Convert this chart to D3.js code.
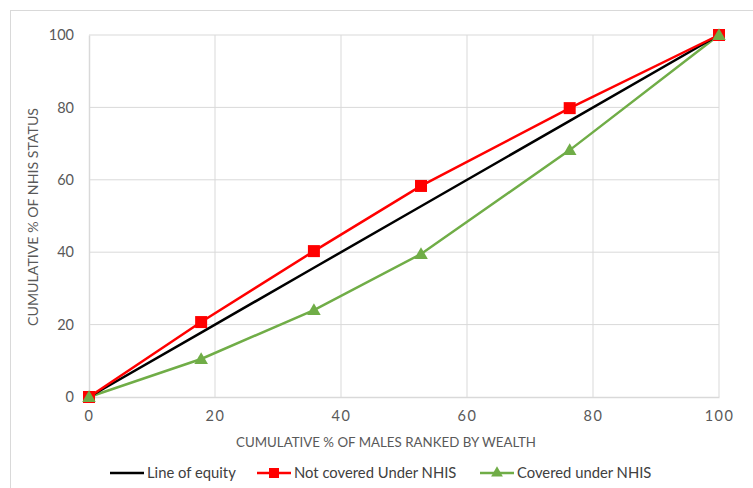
<!DOCTYPE html>
<html><head><meta charset="utf-8">
<script src="https://cdn.jsdelivr.net/npm/d3@7"></script>
<style>body{margin:0;background:#fff;} text{font-family:Lato,"Open Sans",sans-serif;}</style>
</head><body>
<svg id="c" width="753" height="488"></svg>
<script>
const xValues = [0, 17.8, 35.7, 52.7, 76.3, 100];
const equity = [0, 17.8, 35.7, 52.7, 76.3, 100];
const notCovered = [0, 20.7, 40.3, 58.3, 79.8, 100];
const covered = [0, 10.5, 24.0, 39.5, 68.2, 100];
const ticks = [0, 20, 40, 60, 80, 100];
const seriesNames = ["Line of equity", "Not covered Under NHIS", "Covered under NHIS"];
const seriesColors = ["#000000", "#ff0000", "#70ad47"];

const svg = d3.select("#c");
svg.append("rect").attr("x",10.5).attr("y",10.5).attr("width",760).attr("height",500)
  .attr("fill","#fff").attr("stroke","#d9d9d9");

const x = d3.scaleLinear().domain([0,100]).range([89,719]);
const y = d3.scaleLinear().domain([0,100]).range([397,35]);

// gridlines
svg.append("g").selectAll("line").data(ticks.slice(1)).join("line")
  .attr("x1",d=>x(d)).attr("x2",d=>x(d)).attr("y1",y(0)).attr("y2",y(100))
  .attr("stroke","#d9d9d9").attr("stroke-width",1);
svg.append("g").selectAll("line").data(ticks.slice(1)).join("line")
  .attr("x1",x(0)).attr("x2",x(100)).attr("y1",d=>y(d)).attr("y2",d=>y(d))
  .attr("stroke","#d9d9d9").attr("stroke-width",1);

// axes
const xa = svg.append("g").attr("transform",`translate(0,${y(0)})`)
  .call(d3.axisBottom(x).tickValues(ticks).tickSize(0).tickPadding(14));
xa.select(".domain").attr("stroke","#d9d9d9").attr("stroke-width",1.5);
xa.selectAll("text").attr("fill","#595959").attr("font-size",14.5).style("letter-spacing","1.5px");
const ya = svg.append("g").attr("transform",`translate(${x(0)},0)`)
  .call(d3.axisLeft(y).tickValues(ticks).tickSize(0).tickPadding(15));
ya.select(".domain").attr("stroke","#d9d9d9").attr("stroke-width",1.5);
ya.selectAll("text").attr("fill","#595959").attr("font-size",14.5);

// axis titles
svg.append("text").attr("x",386).attr("y",447).attr("text-anchor","middle")
  .attr("fill","#595959").attr("font-size",13.3).text("CUMULATIVE % OF MALES RANKED BY WEALTH");
svg.append("text").attr("transform","translate(38,217) rotate(-90)").attr("text-anchor","middle")
  .attr("fill","#595959").attr("font-size",14.2).text("CUMULATIVE % OF NHIS STATUS");

const line = d3.line().x(d=>x(d[0])).y(d=>y(d[1]));
const dataSets = [equity, notCovered, covered].map(vals => xValues.map((v,i)=>[v, vals[i]]));

const tri = d3.symbol().type(d3.symbolTriangle).size(80);

// draw in order: green, black, red
[2,0,1].forEach(si => {
  svg.append("path").datum(dataSets[si]).attr("d",line).attr("fill","none")
    .attr("stroke",seriesColors[si]).attr("stroke-width",2.5);
});
[1,2].forEach(si => {
  const g = svg.append("g");
  if (si===1) {
    g.selectAll("rect").data(dataSets[si]).join("rect")
      .attr("x",d=>x(d[0])-6).attr("y",d=>y(d[1])-6).attr("width",12).attr("height",12)
      .attr("fill",seriesColors[si]);
  } else {
    g.selectAll("path").data(dataSets[si]).join("path")
      .attr("d",tri).attr("transform",d=>`translate(${x(d[0])},${y(d[1])+1})`)
      .attr("fill",seriesColors[si]);
  }
});

// legend
const legX = [110, 257, 480];
const legY = 473;
seriesNames.forEach((n,i)=>{
  const g = svg.append("g");
  g.append("line").attr("x1",legX[i]).attr("x2",legX[i]+34).attr("y1",legY).attr("y2",legY)
    .attr("stroke",seriesColors[i]).attr("stroke-width",2.5);
  if (i===1) g.append("rect").attr("x",legX[i]+12).attr("y",legY-5).attr("width",10).attr("height",10).attr("fill",seriesColors[i]);
  if (i===2) g.append("path").attr("d",d3.symbol().type(d3.symbolTriangle).size(60)).attr("transform",`translate(${legX[i]+17},${legY})`).attr("fill",seriesColors[i]);
  g.append("text").attr("x",legX[i]+37).attr("y",legY+5).attr("fill","#404040").attr("font-size",14.8).text(n);
});
</script>
</body></html>
